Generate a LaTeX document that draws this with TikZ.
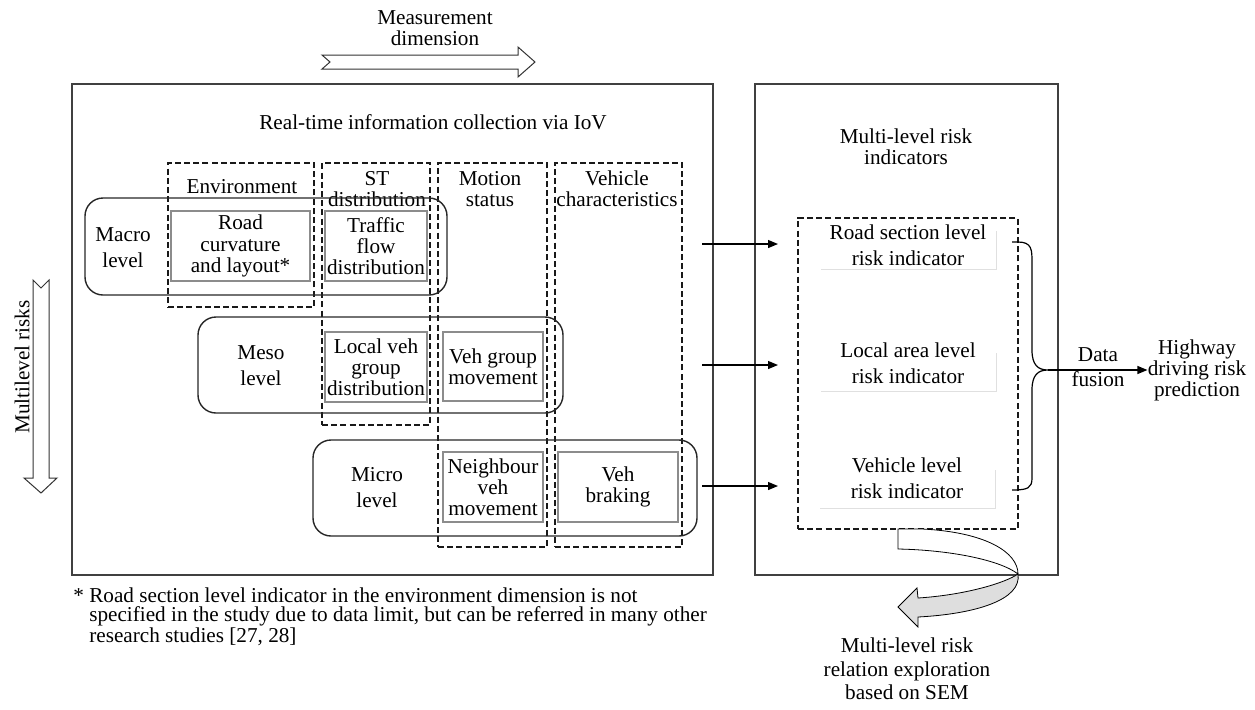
\documentclass[tikz,border=0pt]{standalone}
\usepackage{fontspec}
\setmainfont{Liberation Serif}
\usetikzlibrary{arrows.meta,fit,shadows}

\begin{document}
\begin{tikzpicture}[x=0.5pt,y=-0.5pt,
  every node/.style={inner sep=0pt, align=center, font=\fontsize{10.6}{10.6}\selectfont},
  loose/.style={font=\fontsize{10.6}{13}\selectfont},
  frame/.style={draw=black!75, line width=0.9pt},
  colbox/.style={draw=black!90, dash pattern=on 3pt off 1.6pt, line width=0.6pt},
  levelbox/.style={draw=black!85, line width=0.7pt, rounded corners=9pt},
  itembox/.style={draw=black!45, line width=0.8pt},
  arr/.style={line width=0.6pt, -{Triangle[length=5pt,width=4pt]}},
  bigarrow/.style={draw=black!80, line width=0.5pt, fill=white},
  indbox/.style={fill=white, minimum width=88pt, minimum height=19.5pt,
    drop shadow={shadow xshift=0.4pt, shadow yshift=-0.6pt, fill=black!12, opacity=1}},
]
\useasboundingbox (0,0) rectangle (1255,709);

% ---- measurement dimension (horizontal hollow arrow)
\node (measure) at (435,28) {Measurement\\dimension};
\draw[bigarrow] (322,55) -- (518,55) -- (518,47) -- (535,62) -- (518,77) -- (518,69)
  -- (322,69) -- (330,62) -- cycle;

% ---- multilevel risks (vertical hollow arrow)
\node[rotate=90] (mlrisk) at (22,367) {Multilevel risks};
\draw[bigarrow] (33,280) -- (41,288) -- (49,280) -- (49,478) -- (57,478) -- (41,493)
  -- (24,478) -- (33,478) -- cycle;

% ---- panels
\node[frame, fit={(72,84) (713,575)}] (leftpanel) {};
\node[frame, fit={(755,84) (1058,575)}] (rightpanel) {};
\node (collect) at (433,122) {Real-time information collection via IoV};
\node (indtitle) at (906,147) {Multi-level risk\\indicators};

% ---- measurement columns
\node[colbox, fit={(168,163) (314,307)}] (envcol) {};
\node[colbox, fit={(322,163) (430,425)}] (stcol) {};
\node[colbox, fit={(438,163) (547,547)}] (motcol) {};
\node[colbox, fit={(555,163) (682,547)}] (vehcol) {};
\node (envhead) at (242,187) {Environment};
\node (sthead) at (377,189) {ST\\distribution};
\node (mothead) at (490,189) {Motion\\status};
\node (vehhead) at (617,189) {Vehicle\\characteristics};

% ---- risk levels
\node[levelbox, fit={(85,198) (447,295)}] (macro) {};
\node[levelbox, fit={(198,317) (563,413)}] (meso) {};
\node[levelbox, fit={(313,440) (697,536)}] (micro) {};
\node[loose] (macrolbl) at (123,248) {Macro\\level};
\node[loose] (mesolbl) at (261,366) {Meso\\level};
\node[loose] (microlbl) at (377,488) {Micro\\level};

% ---- collected information items
\node[itembox, minimum width=69.5pt, minimum height=35pt] (road) at (240.5,246)
  {Road\\curvature\\and layout*};
\node[itembox, minimum width=51pt, minimum height=35pt] (traffic) at (376,246)
  {Traffic\\flow\\distribution};
\node[itembox, minimum width=51pt, minimum height=35pt] (localveh) at (376,367)
  {Local veh\\group\\distribution};
\node[itembox, minimum width=50pt, minimum height=34.5pt] (groupmov) at (493,366.5)
  {Veh group\\movement};
\node[itembox, minimum width=50pt, minimum height=35pt] (neighmov) at (493,487)
  {Neighbour\\veh\\movement};
\node[itembox, minimum width=60pt, minimum height=35pt] (braking) at (618,487)
  {Veh\\braking};

% ---- indicators
\node[colbox, fit={(798,218) (1018,529)}] (indgroup) {};
\node[indbox] (ind1) at (908,249.5) {};
\node[indbox] (ind2) at (908,371.5) {};
\node[indbox] (ind3) at (907,488) {};
\node[loose] (ind1txt) at (908,245) {Road section level\\risk indicator};
\node[loose] (ind2txt) at (908,363) {Local area level\\risk indicator};
\node[loose] (ind3txt) at (907,478) {Vehicle level\\risk indicator};

% ---- level-to-indicator connectors
\coordinate (s1) at (702,244); \coordinate (e1) at (778,244);
\coordinate (s2) at (702,365); \coordinate (e2) at (778,365);
\coordinate (s3) at (702,486); \coordinate (e3) at (778,486);
\draw[arr] (s1) -- (e1);
\draw[arr] (s2) -- (e2);
\draw[arr] (s3) -- (e3);

% ---- data fusion brace
\coordinate (btip) at (1048,370);
\draw[line width=0.6pt] (1012,242) -- (1018,242) .. controls (1032,242) and (1032,250) .. (1032,262)
  -- (1032,350) .. controls (1032,365) and (1038,370) .. (btip)
  .. controls (1038,370) and (1032,375) .. (1032,390)
  -- (1032,478) .. controls (1032,488) and (1028,490) .. (1012,490);
\node[font=\fontsize{10.6}{12.5}\selectfont] (fusion) at (1098,367) {Data\\fusion};
\node[font=\fontsize{10.6}{10.5}\selectfont] (predict) at (1197,370)
  {Highway\\driving risk\\prediction};
\draw[arr] (btip) -- (predict.west);

% ---- curled arrow towards SEM exploration
\draw[line width=0.4pt, fill=white] (898,529) -- (922,529)
  .. controls (985,532) and (1018,552) .. (1018,574)
  .. controls (1000,560) and (950,550) .. (898,549) -- cycle;
\draw[line width=0.4pt, fill=black!13] (1018,574)
  .. controls (1005,583) and (965,595) .. (918,598) -- (917,588) -- (898,607)
  -- (918,627) -- (918,617) .. controls (975,614) and (1022,600) .. (1018,574) -- cycle;
\node[font=\fontsize{10.6}{11.8}\selectfont] (sem) at (907,669)
  {Multi-level risk\\relation exploration\\based on SEM};

% ---- footnote
\node[anchor=north west, align=left, font=\fontsize{10.6}{9.6}\selectfont] (note) at (73,587)
  {* Road section level indicator in the environment dimension is not\\
   \hphantom{*\ }specified in the study due to data limit, but can be referred in many other\\
   \hphantom{*\ }research studies [27, 28]};
\end{tikzpicture}
\end{document}
